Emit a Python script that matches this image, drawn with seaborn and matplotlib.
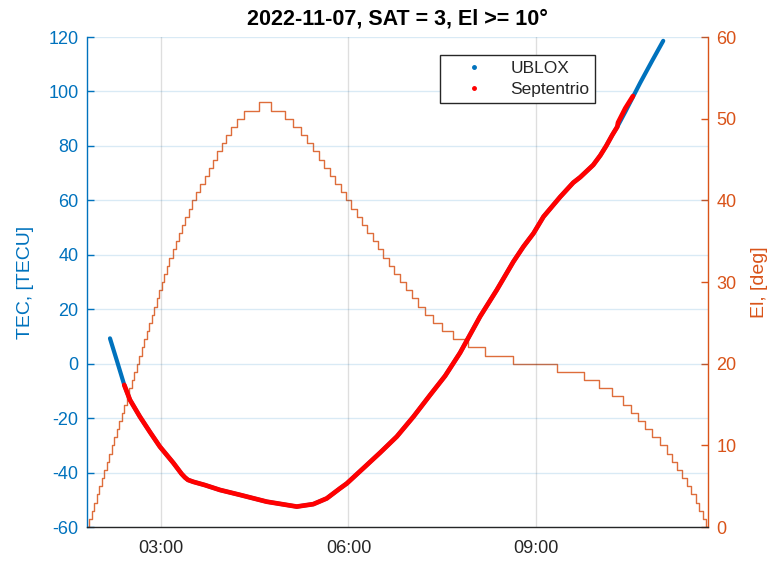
import numpy as np
import pandas as pd
import matplotlib
matplotlib.use("Agg")
import matplotlib.pyplot as plt
import matplotlib.dates as mdates
from matplotlib.lines import Line2D
import seaborn as sns

DAY = pd.Timestamp("2022-11-07")

# Elevation of SAT 3 in whole degrees; each value holds from the given minute of day
el_start_min = [
    108.5, 110.9, 113.3, 115.7, 118.1, 120.5, 122.9, 125.3, 127.7, 130.1,
    132.6, 135.0, 137.4, 139.8, 142.2, 144.6, 147.0, 149.4, 151.8, 154.2,
    156.6, 159.0, 161.4, 163.8, 166.2, 168.6, 171.0, 173.4, 175.8, 178.2,
    180.7, 183.1, 185.5, 187.9, 191.0, 194.0, 197.0, 200.1, 203.2, 206.2,
    209.2, 213.4, 217.5, 221.7, 225.8, 229.9, 234.0, 238.1, 242.7, 247.5,
    252.8, 259.6, 273.5,
    285.5, 298.5, 306.7, 313.9, 320.2, 325.9, 331.2, 336.5, 341.8, 347.1,
    352.4, 357.7, 362.8, 367.9, 373.0, 378.1, 383.2, 388.3, 393.3, 398.6,
    403.9, 409.1, 414.9, 420.7, 426.9, 433.7, 441.1, 449.7, 460.9, 475.3,
    491.4, 518.6, 560.4, 586.9, 601.3, 613.6, 623.7, 631.7, 638.2, 645.3,
    652.0, 659.8, 665.9, 671.3, 675.8, 680.6, 685.4, 689.5, 693.8, 697.2,
    700.5, 703.6, 705.9,
]
el_deg = [
    0, 1, 2, 3, 4, 5, 6, 7, 8, 9,
    10, 11, 12, 13, 14, 15, 16, 17, 18, 19,
    20, 21, 22, 23, 24, 25, 26, 27, 28, 29,
    30, 31, 32, 33, 34, 35, 36, 37, 38, 39,
    40, 41, 42, 43, 44, 45, 46, 47, 48, 49,
    50, 51, 52,
    51, 50, 49, 48, 47, 46, 45, 44, 43, 42,
    41, 40, 39, 38, 37, 36, 35, 34, 33, 32,
    31, 30, 29, 28, 27, 26, 25, 24, 23, 22,
    21, 20, 19, 18, 17, 16, 15, 14, 13, 12,
    11, 10, 9, 8, 7, 6, 5, 4, 3, 2,
    1, 0, 0,
]

# TEC from the u-blox receiver (minute of day, TECU)
ublox_min = [
    130.7, 137.4, 144.4, 149.9, 159.5, 169.1, 178.7, 191.5, 199.6, 202.8,
    205.7, 210.8, 222.0, 236.5, 255.7, 281.4, 310.3, 326.2, 339.1, 351.9,
    358.4, 374.3, 390.4, 406.4, 422.4, 438.5, 452.9, 467.3, 486.5, 502.6,
    518.6, 528.2, 537.9, 547.5, 563.6, 576.1, 582.8, 595.3, 602.1, 607.8,
    613.6, 618.4, 626.1, 640.5, 652.0, 662.6,
]
ublox_tec = [
    9.3, 1.0, -7.8, -13.3, -19.5, -25.1, -30.5, -36.4, -40.5, -41.8,
    -42.7, -43.4, -44.6, -46.4, -48.2, -50.7, -52.5, -51.6, -49.5, -45.8,
    -44.0, -38.4, -32.7, -26.8, -19.5, -11.5, -4.5, 4.0, 17.3, 27.1,
    37.5, 43.0, 47.9, 54.0, 61.3, 66.5, 68.5, 73.0, 76.5, 80.0,
    84.0, 87.0, 92.5, 103.2, 111.3, 118.6,
]

# TEC from the Septentrio receiver (minute of day, TECU)
sept_min = [
    144.4, 149.9, 159.5, 169.1, 178.7, 191.5, 199.6, 202.8, 205.7, 210.8,
    222.0, 236.5, 255.7, 281.4, 310.3, 326.2, 339.1, 351.9, 358.4, 374.3,
    390.4, 406.4, 422.4, 438.5, 452.9, 467.3, 486.5, 502.6, 518.6, 528.2,
    537.9, 547.5, 563.6, 576.1, 582.8, 595.3, 602.1, 607.8, 613.6, 618.4,
    619.2, 626.1, 633.5,
]
sept_tec = [
    -7.8, -13.3, -19.5, -25.1, -30.5, -36.4, -40.5, -41.8, -42.7, -43.4,
    -44.6, -46.4, -48.2, -50.7, -52.5, -51.6, -49.5, -45.8, -44.0, -38.4,
    -32.7, -26.8, -19.5, -11.5, -4.5, 4.0, 17.3, 27.1, 37.5, 43.0,
    47.9, 54.0, 61.3, 66.5, 68.5, 73.0, 76.5, 80.0, 84.0, 87.0,
    88.6, 93.8, 98.3,
]

tec_ticks = list(range(-60, 121, 20))
el_ticks = list(range(0, 61, 10))
hour_ticks = [3, 6, 9]
x_range_min = [108.5, 705.9]


def to_time(minutes):
    return pd.Series(DAY + pd.to_timedelta(np.asarray(minutes, float), unit="min"))


BLUE = "#0072BD"
ORANGE = "#D95319"
RED = "#FF0000"
AXC = "#262626"

sns.set_style("white")
plt.rcParams["font.family"] = ["Liberation Sans", "DejaVu Sans"]
plt.rcParams["axes.unicode_minus"] = False

fig, ax = plt.subplots(figsize=(7.69, 5.61), dpi=100)
fig.subplots_adjust(left=0.113, right=0.921, top=0.934, bottom=0.0606)
ax2 = ax.twinx()

# elevation staircase on the right axis
sns.lineplot(x=to_time(el_start_min), y=el_deg, ax=ax2, color=ORANGE, lw=1.0,
             alpha=0.85, drawstyle="steps-post", estimator=None, sort=False)

# TEC curves on the left axis
sns.lineplot(x=to_time(ublox_min), y=ublox_tec, ax=ax, color=BLUE, lw=3.0,
             estimator=None, sort=False)
sns.lineplot(x=to_time(sept_min), y=sept_tec, ax=ax, color=RED, lw=3.4,
             estimator=None, sort=False)

ax.set_zorder(ax2.get_zorder() + 1)
ax.patch.set_visible(False)

ax.set_xlim(to_time(x_range_min).tolist())
ax.set_ylim(-60, 120)
ax2.set_ylim(0, 60)
ax.set_yticks(tec_ticks)
ax2.set_yticks(el_ticks)
ax.xaxis.set_major_locator(mdates.HourLocator(byhour=hour_ticks))
ax.xaxis.set_major_formatter(mdates.DateFormatter("%H:%M"))

ax.set_axisbelow(True)
ax.grid(axis="y", color=BLUE, alpha=0.15, lw=1.0)
ax.grid(axis="x", color=AXC, alpha=0.15, lw=1.0)
ax2.grid(False)

for s in ["top", "right"]:
    ax.spines[s].set_visible(False)
for s in ["top", "left", "bottom"]:
    ax2.spines[s].set_visible(False)
ax.spines["left"].set_color(BLUE)
ax.spines["bottom"].set_color(AXC)
ax2.spines["right"].set_color(ORANGE)
for sp in list(ax.spines.values()) + list(ax2.spines.values()):
    sp.set_linewidth(1.0)

ax.tick_params(axis="y", colors=BLUE, direction="in", length=5, width=1.0,
               labelsize=13, pad=6)
ax.tick_params(axis="x", colors=AXC, direction="in", length=5, width=1.0,
               labelsize=13, pad=9)
ax2.tick_params(axis="y", colors=ORANGE, direction="in", length=5, width=1.0,
                labelsize=13, pad=6)

ax.set_xlabel("")
ax.set_ylabel("TEC, [TECU]", color=BLUE, fontsize=14, labelpad=10)
ax2.set_ylabel("El, [deg]", color=ORANGE, fontsize=14, labelpad=10)
ax.set_title("2022-11-07, SAT = 3, El >= 10°", fontsize=15.5,
             fontweight="bold", color="black", pad=9)

handles = [
    Line2D([], [], marker=".", ls="none", color=BLUE, markersize=5, label="UBLOX"),
    Line2D([], [], marker=".", ls="none", color=RED, markersize=5, label="Septentrio"),
]
leg = ax.legend(handles=handles, loc="upper left", bbox_to_anchor=(0.568, 0.963),
                borderaxespad=0, frameon=True, fancybox=False, framealpha=1,
                edgecolor=AXC, fontsize=12.5, handlelength=3.2, handletextpad=0.5,
                borderpad=0.35, labelspacing=0.3)
leg.get_frame().set_linewidth(1.0)

fig.savefig("out.png", dpi=100)
